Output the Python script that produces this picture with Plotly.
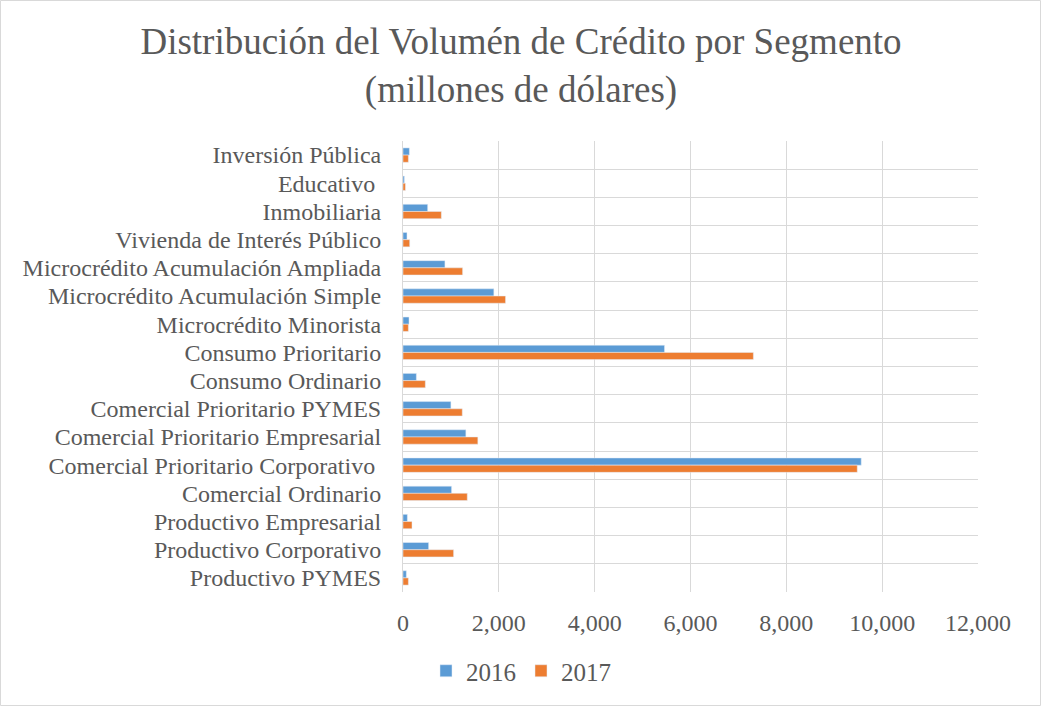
import plotly.graph_objects as go

categories = [
    "Inversión Pública",
    "Educativo ",
    "Inmobiliaria",
    "Vivienda de Interés Público",
    "Microcrédito Acumulación Ampliada",
    "Microcrédito Acumulación Simple",
    "Microcrédito Minorista",
    "Consumo Prioritario",
    "Consumo Ordinario",
    "Comercial Prioritario PYMES",
    "Comercial Prioritario Empresarial",
    "Comercial Prioritario Corporativo ",
    "Comercial Ordinario",
    "Productivo Empresarial",
    "Productivo Corporativo",
    "Productivo PYMES",
]
values_2016 = [133, 29, 515, 83, 875, 1896, 125, 5458, 279, 1000, 1312, 9563, 1014, 91, 535, 70]
values_2017 = [112, 50, 800, 140, 1244, 2140, 112, 7312, 466, 1237, 1562, 9480, 1341, 188, 1056, 112]
x_ticks = [0, 2000, 4000, 6000, 8000, 10000, 12000]
x_tick_labels = ["0", "2,000", "4,000", "6,000", "8,000", "10,000", "12,000"]

font_family = "Liberation Serif, Times New Roman, serif"
grey = "#595959"

fig = go.Figure()
fig.add_trace(go.Bar(y=categories, x=values_2016, name="2016", orientation="h",
                     marker=dict(color="#5B9BD5")))
fig.add_trace(go.Bar(y=categories, x=values_2017, name="2017", orientation="h",
                     marker=dict(color="#ED7D31")))

W, H = 1042, 707
ml, mr, mt, mb = 403, 64, 141, 115
pw, ph = W - ml - mr, H - mt - mb

fig.update_layout(
    width=W, height=H,
    margin=dict(l=ml, r=mr, t=mt, b=mb, autoexpand=False),
    paper_bgcolor="white", plot_bgcolor="white",
    barmode="group", bargap=0.49, bargroupgap=0,
    font=dict(family=font_family, color=grey, size=24),
    title=dict(
        text="Distribución del Volumén de Crédito por Segmento<br>(millones de dólares)",
        x=0.5, xref="container", xanchor="center",
        y=1 - 54 / H, yref="container", yanchor="middle",
        font=dict(family=font_family, size=37, color=grey),
    ),
    xaxis=dict(
        range=[0, 12000], tickvals=x_ticks, ticktext=x_tick_labels,
        showgrid=True, gridcolor="#D9D9D9", gridwidth=1,
        zeroline=False, showline=False, ticks="",
        tickfont=dict(size=24, color=grey), ticklabelstandoff=14,
    ),
    yaxis=dict(
        type="category", autorange="reversed",
        tickmode="array", tickvals=categories, ticktext=categories,
        tickson="boundaries", showgrid=True, gridcolor="#D9D9D9", gridwidth=1,
        showline=True, linecolor="#D9D9D9", linewidth=1, ticks="",
        mirror=False,
        tickfont=dict(size=24, color=grey), ticklabelstandoff=16,
    ),
    legend=dict(
        orientation="h", x=0.5, xref="container", xanchor="center",
        y=1 - 671 / H, yref="container", yanchor="middle",
        font=dict(size=25, color=grey), itemwidth=30,
    ),
    shapes=[dict(
        type="rect", xref="paper", yref="paper",
        x0=(0.5 - ml) / pw, x1=(W - 1.5 - ml) / pw,
        y0=-(mb - 1.5) / ph, y1=1 + (mt - 0.5) / ph,
        line=dict(color="#D9D9D9", width=1), fillcolor="rgba(0,0,0,0)",
        layer="below",
    )],
)

fig.write_html("out.html", config={"displayModeBar": False},
               post_script="document.body.style.margin='0';")
